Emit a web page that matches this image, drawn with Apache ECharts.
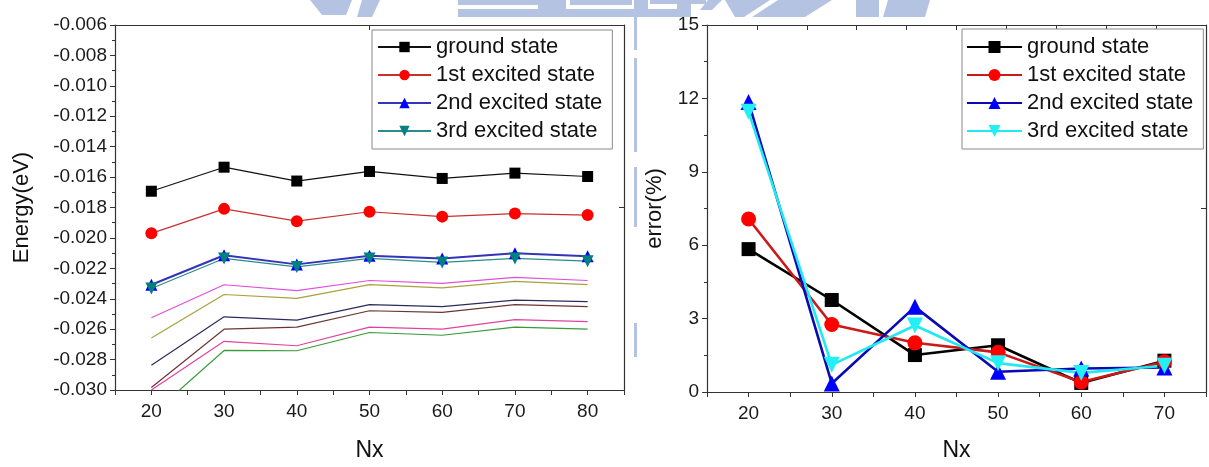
<!DOCTYPE html>
<html>
<head>
<meta charset="utf-8">
<script src="https://cdn.jsdelivr.net/npm/echarts@6/dist/echarts.min.js"></script>
<style>
html,body{margin:0;padding:0;background:#fff;}
#chart{width:1209px;height:467px;}
</style>
</head>
<body>
<div id="chart"></div>
<script>
// ---- data ----
const nxLeft = [20, 30, 40, 50, 60, 70, 80];
const legendNames = ['ground state', '1st excited state', '2nd excited state', '3rd excited state'];
const groundE = [-0.01693, -0.01535, -0.01626, -0.01563, -0.01609, -0.01574, -0.01596];
const firstE  = [-0.01970, -0.01809, -0.01890, -0.01828, -0.01860, -0.01840, -0.01850];
const secondE = [-0.02308, -0.02114, -0.02174, -0.02118, -0.02135, -0.02101, -0.02120];
const thirdE  = [-0.02333, -0.02135, -0.02191, -0.02135, -0.02161, -0.02135, -0.02153];
const curve5E = [-0.02525, -0.02308, -0.02346, -0.02280, -0.02299, -0.02260, -0.02280];
const curve6E = [-0.02658, -0.02372, -0.02398, -0.02307, -0.02329, -0.02286, -0.02307];
const curve7E = [-0.02837, -0.02519, -0.02540, -0.02439, -0.02452, -0.02409, -0.02419];
const curve8E = [-0.02984, -0.02600, -0.02587, -0.02479, -0.02490, -0.02439, -0.02452];
const curve9E = [-0.03000, -0.02680, -0.02709, -0.02587, -0.02600, -0.02537, -0.02550];
const curve10E = [-0.03165, -0.02740, -0.02742, -0.02622, -0.02640, -0.02587, -0.02600];
const energyTicks = { min: -0.030, max: -0.006, step: 0.002 };

const nxRight = [20, 30, 40, 50, 60, 70];
const groundErr = [5.84, 3.76, 1.51, 1.91, 0.37, 1.28];
const firstErr  = [7.07, 2.76, 2.01, 1.62, 0.41, 1.24];
const secondErr = [11.85, 0.35, 3.48, 0.83, 0.96, 1.00];
const thirdErr  = [11.45, 1.11, 2.72, 1.18, 0.78, 1.07];
const errTicks = { min: 0, max: 15, step: 3 };

// ---- helpers ----
const FONT = 'Liberation Sans';
const AX = '#333';
const pairs = (xs, ys) => xs.map((x, i) => [x, ys[i]]);
const TAG = ' ';   // distinguishes right-hand series names (trailing space)

function leftSeries(name, data, color, symbol, size, lw, lineColor) {
  return {
    name, type: 'line', xAxisIndex: 0, yAxisIndex: 0, data: pairs(nxLeft, data),
    symbol: symbol, symbolSize: size, showSymbol: symbol !== 'none',
    lineStyle: { color: lineColor || color, width: lw },
    itemStyle: { color: color, borderWidth: 0 },
    clip: true, z: 3
  };
}
function rightSeries(name, data, color, lineColor, symbol, size) {
  return {
    name: name + TAG, type: 'line', xAxisIndex: 1, yAxisIndex: 1, data: pairs(nxRight, data),
    symbol: symbol, symbolSize: size,
    lineStyle: { color: lineColor, width: 2.6 },
    itemStyle: { color: color, borderWidth: 0 },
    clip: false, z: 3
  };
}

const tickLabel = { fontFamily: FONT, fontSize: 19, color: '#1a1a1a' };
const axisLine = { show: true, onZero: false, lineStyle: { color: AX, width: 1.2 } };

const chart = echarts.init(document.getElementById('chart'), null, { renderer: 'canvas' });

const wm = '#b5c3e3';
const option = {
  animation: false,
  backgroundColor: '#fff',
  textStyle: { fontFamily: FONT },
  graphic: [
    // faint watermark pieces at the top and a dashed line between the panels
    { type: 'polygon', z: -10, shape: { points: [[310,0],[352,0],[346,15],[322,15]] }, style: { fill: wm } },
    { type: 'polygon', z: -10, shape: { points: [[362,0],[380,0],[372,17],[357,17]] }, style: { fill: wm } },
    { type: 'rect', z: -10, shape: { x: 458, y: 0, width: 82, height: 5 }, style: { fill: wm } },
    { type: 'rect', z: -10, shape: { x: 458, y: 9, width: 233, height: 8 }, style: { fill: wm } },
    { type: 'rect', z: -10, shape: { x: 538, y: 0, width: 28, height: 17 }, style: { fill: wm } },
    { type: 'rect', z: -10, shape: { x: 570, y: 0, width: 62, height: 5 }, style: { fill: wm } },
    { type: 'rect', z: -10, shape: { x: 634, y: 0, width: 14, height: 17 }, style: { fill: wm } },
    { type: 'rect', z: -10, shape: { x: 650, y: 0, width: 56, height: 4 }, style: { fill: wm } },
    { type: 'rect', z: -10, shape: { x: 677, y: 0, width: 14, height: 17 }, style: { fill: wm } },
    { type: 'polygon', z: -10, shape: { points: [[708,0],[722,0],[712,10],[700,10]] }, style: { fill: wm } },
    { type: 'polygon', z: -10, shape: { points: [[725,0],[832,0],[805,17],[735,17]] }, style: { fill: wm } },
    { type: 'polygon', z: -9, shape: { points: [[770,0],[778,0],[752,17],[744,17]] }, style: { fill: '#fff' } },
    { type: 'rect', z: -10, shape: { x: 856, y: 0, width: 23, height: 17 }, style: { fill: wm } },
    { type: 'polygon', z: -10, shape: { points: [[888,0],[930,0],[925,17],[883,17]] }, style: { fill: wm } },
    { type: 'rect', z: -10, shape: { x: 634, y: 15, width: 3, height: 35 }, style: { fill: wm } },
    { type: 'rect', z: -10, shape: { x: 634, y: 58, width: 3, height: 94 }, style: { fill: wm } },
    { type: 'rect', z: -10, shape: { x: 634, y: 167, width: 3, height: 60 }, style: { fill: wm } },
    { type: 'rect', z: -10, shape: { x: 634, y: 323, width: 3, height: 34 }, style: { fill: wm } }
  ],
  grid: [
    { left: 115, top: 25, width: 509, height: 372, containLabel: false },
    { left: 707, top: 25, width: 512, height: 374, containLabel: false }
  ],
  legend: [
    {
      data: legendNames, orient: 'vertical', left: 372, top: 30, width: 246,
      itemWidth: 53, itemHeight: 13, itemGap: 6,
      padding: [6, 10, 7, 5],
      backgroundColor: '#fff', borderColor: '#8a8a8a', borderWidth: 1, borderRadius: 0,
      textStyle: { fontFamily: FONT, fontSize: 22, color: '#111' },
      selectedMode: false
    },
    {
      data: legendNames.map(n => n + TAG), orient: 'vertical', left: 962, top: 29,
      itemWidth: 55, itemHeight: 15, itemGap: 6,
      padding: [7, 10, 7, 4],
      backgroundColor: '#fff', borderColor: '#8a8a8a', borderWidth: 1, borderRadius: 0,
      textStyle: { fontFamily: FONT, fontSize: 22, color: '#111' },
      formatter: n => n.trim(),
      selectedMode: false
    }
  ],
  xAxis: [
    { // left bottom
      gridIndex: 0, type: 'value', min: 15, max: 85, interval: 5, position: 'bottom',
      name: 'Nx', nameLocation: 'middle', nameGap: 49,
      nameTextStyle: { fontFamily: FONT, fontSize: 23, color: '#111' },
      axisLine: axisLine,
      axisTick: { show: true, inside: false, length: 5, lineStyle: { color: AX } },
      axisLabel: Object.assign({ margin: 12, formatter: v => (v % 10 === 0 ? String(v) : '') }, tickLabel),
      splitLine: { show: false }
    },
    { // right bottom
      gridIndex: 1, type: 'value', min: 15, max: 75, interval: 5, position: 'bottom',
      name: 'Nx', nameLocation: 'middle', nameGap: 47,
      nameTextStyle: { fontFamily: FONT, fontSize: 23, color: '#111' },
      axisLine: axisLine,
      axisTick: { show: true, inside: false, length: 5, lineStyle: { color: AX } },
      axisLabel: Object.assign({ margin: 12, formatter: v => (v % 10 === 0 ? String(v) : '') }, tickLabel),
      splitLine: { show: false }
    },
    { // left top frame
      gridIndex: 0, type: 'value', min: 0, max: 2, interval: 1, position: 'top',
      axisLine: axisLine, axisTick: { show: true, inside: true, length: 5, lineStyle: { color: AX } },
      axisLabel: { show: false }, splitLine: { show: false }
    },
    { // right top frame
      gridIndex: 1, type: 'value', min: 0, max: 10, interval: 1, position: 'top',
      axisLine: axisLine, axisTick: { show: true, inside: true, length: 5, lineStyle: { color: AX } },
      axisLabel: { show: false }, splitLine: { show: false }
    }
  ],
  yAxis: [
    { // energy
      gridIndex: 0, type: 'value', min: energyTicks.min, max: energyTicks.max, interval: energyTicks.step,
      position: 'left',
      name: 'Energy(eV)', nameLocation: 'middle', nameGap: 82, nameRotate: 90,
      nameTextStyle: { fontFamily: FONT, fontSize: 22, color: '#111' },
      axisLine: axisLine,
      axisTick: { show: true, inside: false, length: 5, lineStyle: { color: AX } },
      minorTick: { show: true, splitNumber: 2, length: 3, lineStyle: { color: AX } },
      axisLabel: Object.assign({ margin: 8, formatter: v => v.toFixed(3) }, tickLabel),
      splitLine: { show: false }, minorSplitLine: { show: false }
    },
    { // error
      gridIndex: 1, type: 'value', min: errTicks.min, max: errTicks.max, interval: errTicks.step,
      position: 'left',
      name: 'error(%)', nameLocation: 'middle', nameGap: 41, nameRotate: 90,
      nameTextStyle: { fontFamily: FONT, fontSize: 22, color: '#111' },
      axisLine: axisLine,
      axisTick: { show: true, inside: false, length: 5, lineStyle: { color: AX } },
      minorTick: { show: true, splitNumber: 2, length: 3, lineStyle: { color: AX } },
      axisLabel: Object.assign({ margin: 8 }, tickLabel),
      splitLine: { show: false }, minorSplitLine: { show: false }
    },
    { // left right frame
      gridIndex: 0, type: 'value', min: 0, max: 2, interval: 1, position: 'right',
      axisLine: axisLine, axisTick: { show: true, inside: true, length: 5, lineStyle: { color: AX } },
      axisLabel: { show: false }, splitLine: { show: false }
    },
    { // right right frame
      gridIndex: 1, type: 'value', min: 0, max: 2, interval: 1, position: 'right',
      axisLine: axisLine, axisTick: { show: true, inside: true, length: 5, lineStyle: { color: AX } },
      axisLabel: { show: false }, splitLine: { show: false }
    }
  ],
  series: [
    leftSeries('curve 5', curve5E, '#e050e0', 'none', 0, 1.2),
    leftSeries('curve 6', curve6E, '#a8a23c', 'none', 0, 1.2),
    leftSeries('curve 7', curve7E, '#2c2c5c', 'none', 0, 1.2),
    leftSeries('curve 8', curve8E, '#6e3434', 'none', 0, 1.2),
    leftSeries('curve 9', curve9E, '#e0449c', 'none', 0, 1.2),
    leftSeries('curve 10', curve10E, '#3a9a3a', 'none', 0, 1.2),
    leftSeries(legendNames[0], groundE, '#000000', 'rect', 11, 1.2, '#111'),
    leftSeries(legendNames[1], firstE, '#ff0000', 'circle', 12, 1.2, '#c83030'),
    leftSeries(legendNames[2], secondE, '#0000ff', 'triangle', 12, 2, '#3434b8'),
    leftSeries(legendNames[3], thirdE, '#008080', 'path://M0,0 L10,0 L5,9 Z', 12, 1.2, '#2c8c8c'),
    rightSeries(legendNames[0], groundErr, '#000000', '#000000', 'rect', 14),
    rightSeries(legendNames[1], firstErr, '#ff0000', '#cc1818', 'circle', 15),
    rightSeries(legendNames[2], secondErr, '#0000ff', '#0a0ab4', 'triangle', 16),
    rightSeries(legendNames[3], thirdErr, '#22f0f4', '#22e8f0', 'path://M0,0 L10,0 L5,9 Z', 16)
  ]
};
chart.setOption(option);
</script>
</body>
</html>
